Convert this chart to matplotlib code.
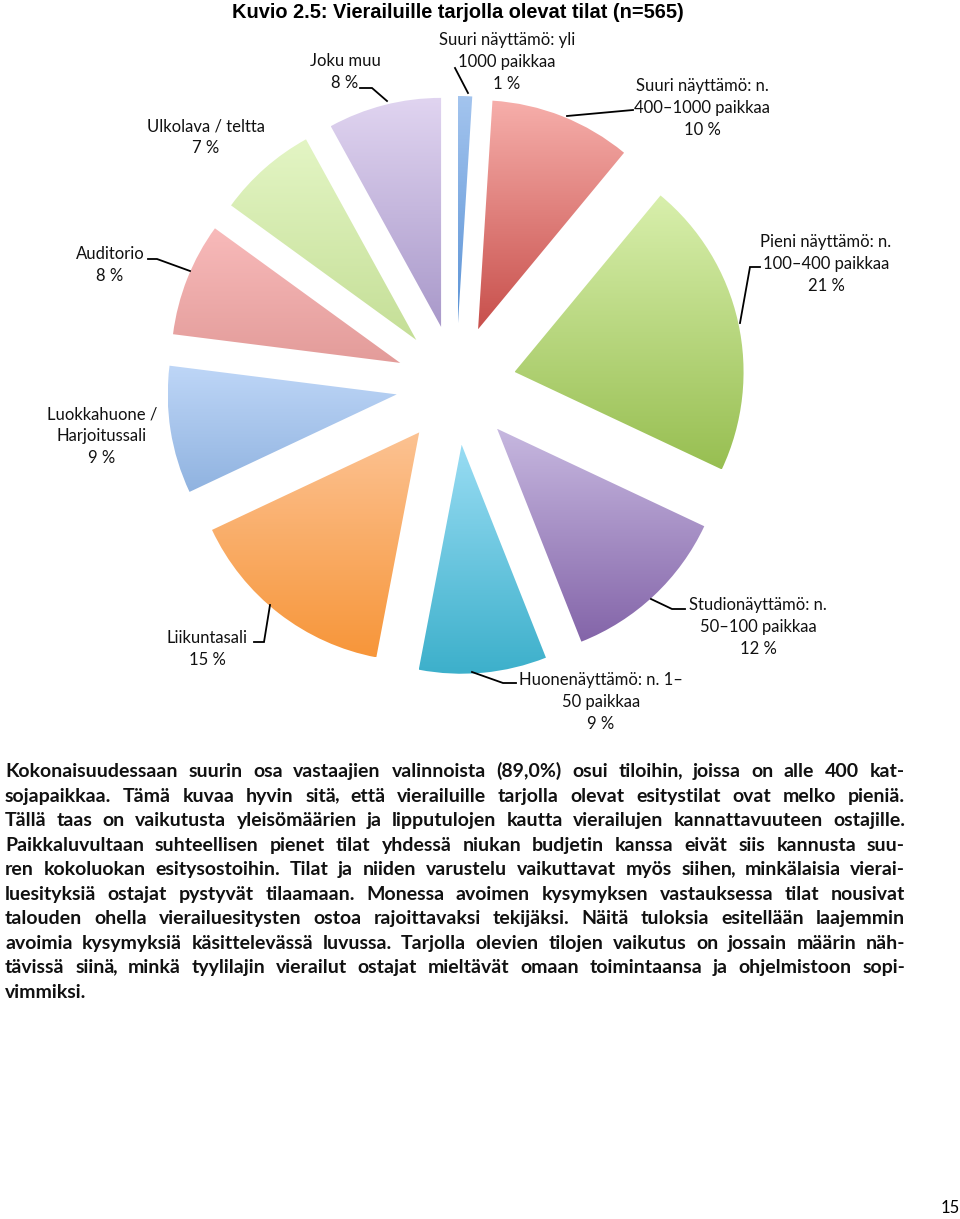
import numpy as np
import matplotlib
matplotlib.use('Agg')
import matplotlib.pyplot as plt
from matplotlib.colors import to_rgb

W, H = 960, 1219

# pie data (clockwise from 12 o'clock)
labels = ['Suuri näyttämö: yli\n1000 paikkaa', 'Suuri näyttämö: n.\n400–1000 paikkaa',
          'Pieni näyttämö: n.\n100–400 paikkaa', 'Studionäyttämö: n.\n50–100 paikkaa',
          'Huonenäyttämö: n. 1–\n50 paikkaa', 'Liikuntasali', 'Luokkahuone /\nHarjoitussali',
          'Auditorio', 'Ulkolava / teltta', 'Joku muu']
shares = [1, 10, 21, 12, 9, 15, 9, 8, 7, 8]

top_colors = ['#a3c4ee', '#f6aeaa', '#d8efac', '#c6b7df', '#98dcf3',
              '#fcc292', '#bed6f7', '#f8baba', '#e3f5c4', '#e0d4f0']
bottom_colors = ['#5b93d6', '#c8504c', '#98bf52', '#8465a9', '#3db0cb',
                 '#f7963a', '#90b3e0', '#e39c9a', '#c5df97', '#a999ca']

# label placement in page pixels: centre x, first line y
label_pos = [(507, 40), (702, 86), (826, 242), (758, 605), (601, 680),
             (207, 638), (102, 414), (110, 254), (206, 126), (345, 61)]
leaders = [[(455, 68), (468, 93)],
           [(633, 110), (567, 116)],
           [(760, 267), (750, 267), (740, 323)],
           [(685, 609), (672, 609), (651, 599)],
           [(516, 683), (503, 683), (472, 672)],
           [(254, 642), (264, 642), (270, 605)],
           None,
           [(148, 259), (157, 259), (190, 271)],
           None,
           [(360, 88), (372, 88), (387, 101)]]

title = 'Kuvio 2.5: Vierailuille tarjolla olevat tilat (n=565)'

body_lines = [
    'Kokonaisuudessaan suurin osa vastaajien valinnoista (89,0%) osui tiloihin, joissa on alle 400 kat-',
    'sojapaikkaa. Tämä kuvaa hyvin sitä, että vierailuille tarjolla olevat esitystilat ovat melko pieniä.',
    'Tällä taas on vaikutusta yleisömäärien ja lipputulojen kautta vierailujen kannattavuuteen ostajille.',
    'Paikkaluvultaan suhteellisen pienet tilat yhdessä niukan budjetin kanssa eivät siis kannusta suu-',
    'ren kokoluokan esitysostoihin. Tilat ja niiden varustelu vaikuttavat myös siihen, minkälaisia vierai-',
    'luesityksiä ostajat pystyvät tilaamaan. Monessa avoimen kysymyksen vastauksessa tilat nousivat',
    'talouden ohella vierailuesitysten ostoa rajoittavaksi tekijäksi. Näitä tuloksia esitellään laajemmin',
    'avoimia kysymyksiä käsittelevässä luvussa. Tarjolla olevien tilojen vaikutus on jossain määrin näh-',
    'tävissä siinä, minkä tyylilajin vierailut ostajat mieltävät omaan toimintaansa ja ohjelmistoon sopi-',
    'vimmiksi.',
]
page_no = '15'

body_font = 'Lato'
label_font = 'Lato'
body_size = 14

fig = plt.figure(figsize=(W / 100, H / 100), dpi=100)
ax = fig.add_axes([0, 0, 1, 1])

# pie centre in page pixels (y flipped); explode is in data units here
cx, cy, R = 456, H - 385, 229
wedges, _ = ax.pie(shares, startangle=90, counterclock=False, radius=R,
                   center=(cx, cy), explode=[60] * len(shares),
                   wedgeprops=dict(facecolor='none', edgecolor='none'))

# vertical gradient fill per wedge
for w, c1, c2 in zip(wedges, top_colors, bottom_colors):
    ext = w.get_path().get_extents()
    t = np.linspace(0, 1, 64)[:, None]
    grad = (1 - t) * np.array(to_rgb(c2)) + t * np.array(to_rgb(c1))
    im = ax.imshow(grad[:, None, :], extent=(ext.x0, ext.x1, ext.y0, ext.y1),
                   origin='lower', aspect='auto', interpolation='bilinear', zorder=1)
    im.set_clip_path(w)

# labels
for lab, v, (lx, ly), ld in zip(labels, shares, label_pos, leaders):
    lines = lab.split('\n') + [f'{v} %']
    for k, s in enumerate(lines):
        ax.text(lx, H - (ly + 21.8 * k), s, ha='center', va='center',
                fontsize=12, family=label_font, color='#111111')
    if ld:
        xs = [p[0] for p in ld]
        ys = [H - p[1] for p in ld]
        ax.plot(xs, ys, color='black', lw=1.3, solid_joinstyle='miter')

ax.text(458, H - 13, title, ha='center', va='center', fontsize=14.4,
        fontweight='bold', family='Liberation Sans')

ax.text(950, H - 1208, page_no, ha='center', va='center', fontsize=12,
        family=label_font)

# justified body text (a trailing comma is drawn as its own piece so the
# word keeps the common baseline)
fig.canvas.draw()
renderer = fig.canvas.get_renderer()
left, right = 5, 905
txt_kw = dict(fontsize=body_size, fontweight='bold', family=body_font,
              va='baseline', ha='left', color='#111111')
sp = ax.text(0, 0, 'a a', **txt_kw)
sp2 = ax.text(0, 0, 'aa', **txt_kw)
space_w = sp.get_window_extent(renderer).width - sp2.get_window_extent(renderer).width
sp.remove()
sp2.remove()
comma_pull = 2.0


def width_of(t):
    return t.get_window_extent(renderer).width


for i, line in enumerate(body_lines):
    y = H - (777 + 24.55 * i)
    words = line.split(' ')
    pieces = []
    for wd in words:
        if wd.endswith(','):
            a = ax.text(0, y, wd[:-1], **txt_kw)
            b = ax.text(0, y, ',', **txt_kw)
            pieces.append([a, b])
        else:
            pieces.append([ax.text(0, y, wd, **txt_kw)])
    widths = []
    for p in pieces:
        widths.append(sum(width_of(t) for t in p) - comma_pull * (len(p) - 1))
    if i < len(body_lines) - 1:
        gap = (right - left - sum(widths)) / (len(words) - 1)
    else:
        gap = space_w
    x = left
    for p, wd in zip(pieces, widths):
        xx = x
        for t in p:
            t.set_x(xx)
            xx += width_of(t) - comma_pull
        x += wd + gap

ax.set_xlim(0, W)
ax.set_ylim(0, H)
ax.set_aspect('auto')
ax.axis('off')

fig.savefig('out.png', dpi=100)
